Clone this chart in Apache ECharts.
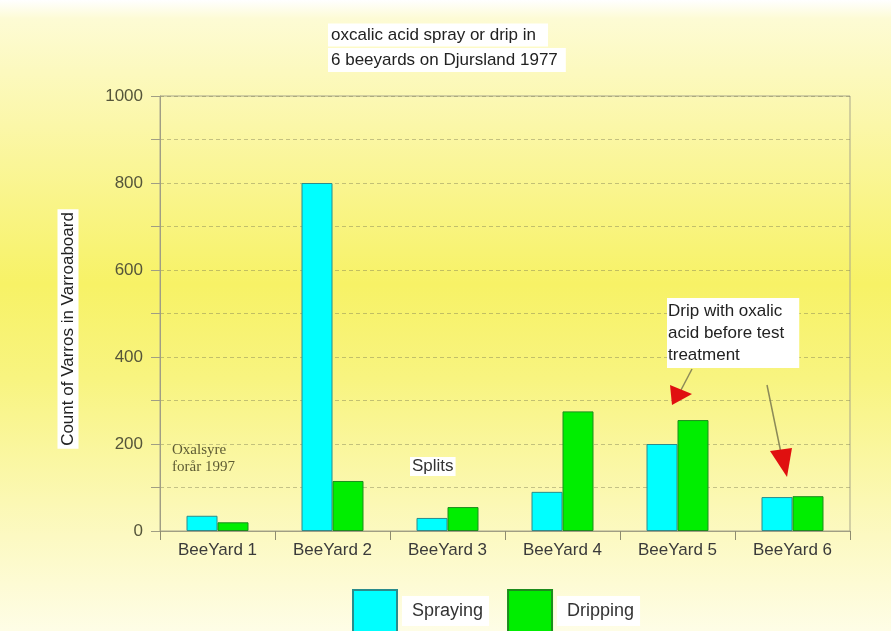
<!DOCTYPE html>
<html>
<head>
<meta charset="utf-8">
<script src="https://cdn.jsdelivr.net/npm/echarts@6/dist/echarts.min.js"></script>
<style>
  html, body { margin: 0; padding: 0; background: #fff; }
  #chart { width: 891px; height: 631px; }
</style>
</head>
<body>
<div id="chart"></div>
<script>
// Varroa counts per beeyard, oxalic acid spraying vs dripping
const categories = ['BeeYard 1', 'BeeYard 2', 'BeeYard 3', 'BeeYard 4', 'BeeYard 5', 'BeeYard 6'];
const spraying = [35, 800, 30, 90, 200, 78];
const dripping = [20, 115, 55, 275, 255, 80];
const seriesNames = ['Spraying', 'Dripping'];
const titleLines = ['oxcalic acid spray or drip in', '6 beeyards on Djursland 1977'];
const yAxisTitle = 'Count of Varros in Varroaboard';

const chart = echarts.init(document.getElementById('chart'), null, { renderer: 'canvas' });
const FONT = 'Liberation Sans, Arial, sans-serif';

const option = {
  animation: false,
  backgroundColor: {
    type: 'linear', x: 0, y: 0, x2: 0, y2: 1,
    colorStops: [
      { offset: 0, color: '#ffffff' },
      { offset: 0.03, color: '#fdfbd4' },
      { offset: 0.2, color: '#fbf7a8' },
      { offset: 0.45, color: '#f7f266' },
      { offset: 0.6, color: '#f8f480' },
      { offset: 0.85, color: '#fcf9c2' },
      { offset: 1, color: '#fefde6' }
    ]
  },
  legend: {
    data: seriesNames,
    left: 352, top: 589, padding: 0,
    itemWidth: 44, itemHeight: 42, itemGap: 18,
    icon: 'rect',
    textStyle: { fontFamily: FONT, fontSize: 18, color: '#333', backgroundColor: '#fff', padding: [6, 6, 6, 10] }
  },
  grid: {
    left: 160, right: 41, top: 96, bottom: 100,
    show: true, borderColor: '#a9a78c', borderWidth: 1
  },
  xAxis: {
    type: 'category',
    data: categories,
    axisLine: { lineStyle: { color: '#a09e84' } },
    axisTick: { show: true, length: 9, lineStyle: { color: '#8e8c70' } },
    axisLabel: { fontFamily: FONT, fontSize: 17, color: '#3a3a3a', margin: 11 }
  },
  yAxis: {
    type: 'value',
    min: 0, max: 1000, interval: 100,
    axisLine: { show: true, lineStyle: { color: '#a09e84' } },
    axisTick: { show: true, length: 9, lineStyle: { color: '#a09e84' } },
    axisLabel: {
      fontFamily: FONT, fontSize: 17, color: '#55553a', margin: 17,
      formatter: v => (v % 200 === 0 ? String(v) : '')
    },
    splitLine: { show: true, lineStyle: { color: 'rgba(120,118,80,0.42)', type: [4, 3] } }
  },
  series: [
    {
      name: seriesNames[0], type: 'bar', data: spraying,
      barWidth: 31, barGap: '0%',
      itemStyle: { color: '#00ffff', borderColor: '#2a8c8c', borderWidth: 1 }
    },
    {
      name: seriesNames[1], type: 'bar', data: dripping,
      barWidth: 31,
      itemStyle: { color: '#00ee00', borderColor: '#1c8c1c', borderWidth: 1 }
    }
  ],
  graphic: [
    {
      type: 'text', x: 328, y: 35, z: 100,
      style: {
        text: titleLines[0], fontFamily: FONT, fontSize: 17, fill: '#222',
        verticalAlign: 'middle', backgroundColor: '#fff', padding: [3, 12, 3, 3]
      }
    },
    {
      type: 'text', x: 328, y: 60, z: 100,
      style: {
        text: titleLines[1], fontFamily: FONT, fontSize: 17, fill: '#222',
        verticalAlign: 'middle', backgroundColor: '#fff', padding: [3, 8, 4, 3]
      }
    },
    {
      type: 'text', x: 68, y: 329, rotation: Math.PI / 2, z: 100,
      style: {
        text: yAxisTitle, fontFamily: FONT, fontSize: 17, fill: '#222',
        align: 'center', verticalAlign: 'middle',
        backgroundColor: '#fff', padding: [2, 3]
      }
    },
    {
      type: 'text', x: 172, y: 442, z: 100,
      style: {
        text: 'Oxalsyre\nforår 1997', fontFamily: 'Liberation Serif, serif', fontSize: 15,
        fill: '#5e5c34', lineHeight: 17
      }
    },
    {
      type: 'text', x: 410, y: 457, z: 100,
      style: {
        text: 'Splits', fontFamily: FONT, fontSize: 17, fill: '#333',
        backgroundColor: '#fff', padding: [1, 2]
      }
    },
    {
      type: 'text', x: 667, y: 298, z: 100,
      style: {
        text: 'Drip with oxalic\nacid before test\ntreatment', fontFamily: FONT, fontSize: 17,
        fill: '#222', lineHeight: 22, backgroundColor: '#fff', padding: [2, 15, 2, 1]
      }
    },
    // pointer lines and red arrow heads
    { type: 'line', z: 100, shape: { x1: 692, y1: 369, x2: 681, y2: 390 }, style: { stroke: '#8c8a58', lineWidth: 1.5 } },
    { type: 'polygon', z: 100, shape: { points: [[672, 405], [670, 385], [692, 394]] }, style: { fill: '#e01010' } },
    { type: 'line', z: 100, shape: { x1: 767, y1: 385, x2: 781, y2: 453 }, style: { stroke: '#8c8a58', lineWidth: 1.5 } },
    { type: 'polygon', z: 100, shape: { points: [[787, 477], [770, 451], [792, 448]] }, style: { fill: '#e01010' } }
  ]
};

chart.setOption(option);
</script>
</body>
</html>
